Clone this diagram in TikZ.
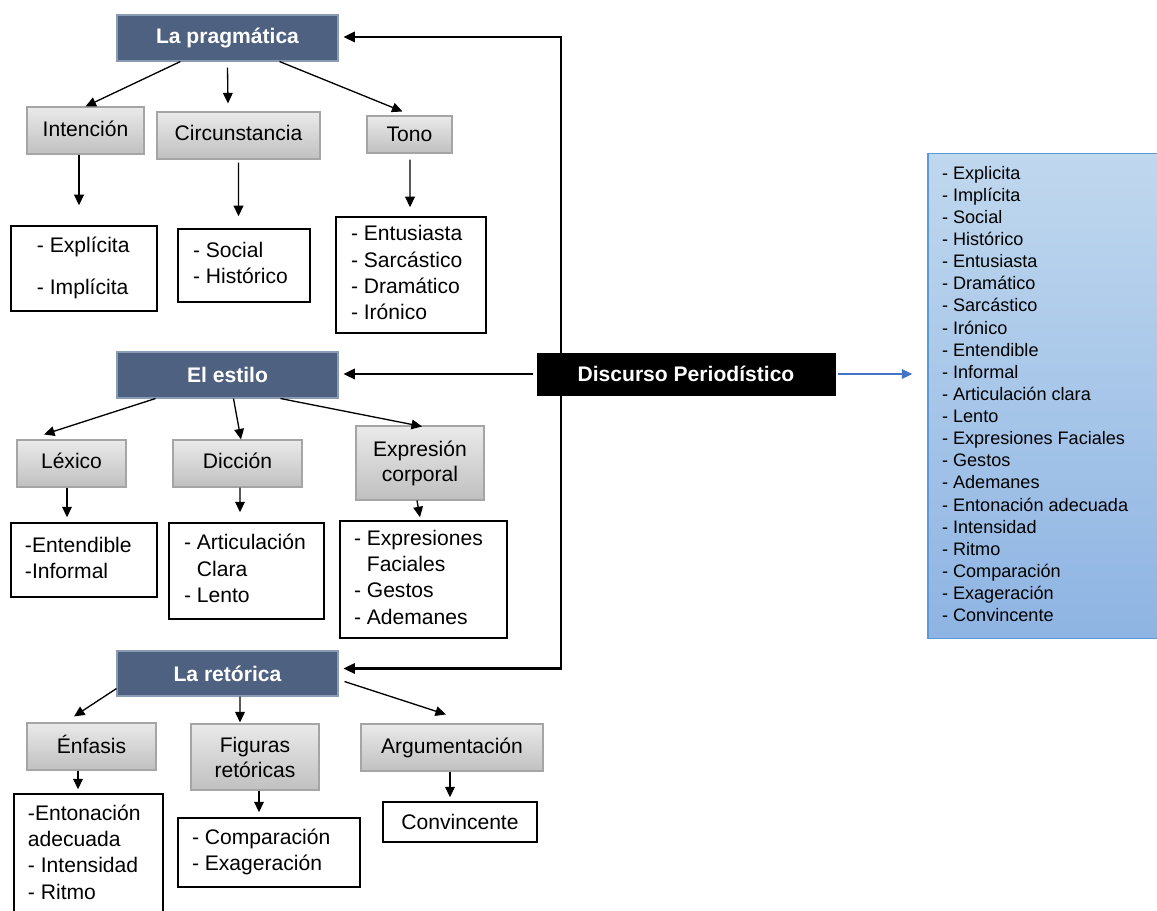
\documentclass[tikz,border=0pt]{standalone}
\usepackage{fontspec}
\setmainfont{Liberation Sans}
\usetikzlibrary{arrows.meta,calc}
\definecolor{hdr}{RGB}{79,97,128}
\definecolor{hdrline}{RGB}{140,155,180}
\definecolor{gtop}{RGB}{234,234,234}
\definecolor{gbot}{RGB}{192,192,192}
\definecolor{gline}{RGB}{165,165,165}
\definecolor{btop}{RGB}{192,216,238}
\definecolor{bbot}{RGB}{142,180,227}
\definecolor{bline}{RGB}{91,155,213}
\definecolor{barrow}{RGB}{68,114,196}
\tikzset{
 header/.style={draw=hdrline, line width=0.6pt, fill=hdr, text=white, font=\fontsize{12}{14.6}\selectfont\bfseries, inner sep=0pt},
 discbox/.style={draw=black, fill=black, text=white, font=\fontsize{12}{14.6}\selectfont\bfseries, inner sep=0pt},
 graybox/.style={draw=gline, line width=0.6pt, top color=gtop, bottom color=gbot, align=center, font=\fontsize{12}{14.2}\selectfont, inner sep=0pt},
 listbox/.style={draw=black, line width=0.8pt, fill=white, inner sep=0pt, font=\fontsize{12}{15}\selectfont},
 arr/.style={-{Triangle[length=6pt,width=5.5pt]}, line width=0.75pt},
 arrb/.style={-{Triangle[length=6.5pt,width=6pt]}, line width=1.2pt},
}
\newcommand{\mkbox}[7]{%
 \node[#1, minimum width={(#5-#3)*0.02cm}, minimum height={(#6-#4)*0.02cm}] (#2) at ({(#3+#5)/2},{(#4+#6)/2}) {#7};}
\newcommand{\mklist}[7]{%
 \pgfmathsetmacro{\lbw}{(#4-#2)*0.02}%
 \pgfmathsetmacro{\lbh}{(#5-#3)*0.02}%
 \pgfmathsetmacro{\lbs}{#6*0.02}%
 \node[listbox, minimum width=\lbw cm, minimum height=\lbh cm] (#1) at ({(#2+#4)/2},{(#3+#5)/2})
  {\makebox[\lbw cm][l]{\hspace*{\lbs cm}\begin{tabular}{@{}l@{}}#7\end{tabular}}};}
\begin{document}
\begin{tikzpicture}[x=0.02cm,y=-0.02cm]
\path[use as bounding box, fill=white] (0,0) rectangle (1157,911);

% headers
\mkbox{header}{prag}{117}{15}{338}{61}{La pragmática}
\mkbox{header}{estilo}{117}{352}{338}{398}{El estilo}
\mkbox{header}{ret}{117}{651}{338}{696}{La retórica}
\mkbox{discbox}{disc}{537}{353}{835}{395}{Discurso Periodístico}

% gray boxes
\mkbox{graybox}{inten}{27}{107}{144}{154}{\raisebox{2pt}{Intención}}
\mkbox{graybox}{circ}{157}{112}{320}{159}{\raisebox{2.5pt}{Circunstancia}}
\mkbox{graybox}{tono}{367}{116}{452}{153}{Tono}
\mkbox{graybox}{lexico}{17}{440}{126}{487}{\raisebox{3pt}{Léxico}}
\mkbox{graybox}{diccion}{173}{440}{302}{487}{\raisebox{3pt}{Dicción}}
\mkbox{graybox}{expr}{356}{426}{484}{500}{Expresión\\corporal}
\mkbox{graybox}{enfasis}{27}{723}{156}{770}{\raisebox{2.5pt}{Énfasis}}
\mkbox{graybox}{figuras}{191}{724}{319}{790}{Figuras\\retóricas}
\mkbox{graybox}{argum}{361}{724}{543}{771}{\raisebox{2.5pt}{Argumentación}}

% list boxes
\mklist{explicita}{11}{226}{157}{311}{26}{- Explícita\\[8.8pt]- Implícita}
\mklist{social}{178}{229}{310}{302}{15}{- Social\\- Histórico}
\mklist{tonolist}{336}{217}{486}{333}{15}{- Entusiasta\\- Sarcástico\\- Dramático\\- Irónico}
\mklist{entend}{11}{523}{157}{597}{14}{-Entendible\\-Informal}
\mklist{artic}{169}{523}{324}{619}{15}{- Articulación\\\phantom{- }Clara\\- Lento}
\mklist{exprlist}{340}{521}{507}{638}{14}{- Expresiones\\\phantom{- }Faciales\\- Gestos\\- Ademanes}
\mklist{enton}{14}{794}{163}{915}{14}{-Entonación\\adecuada\\- Intensidad\\- Ritmo}
\mklist{compar}{178}{818}{360}{887}{14}{- Comparación\\- Exageración}
\mkbox{listbox}{conv}{383}{802}{537}{842}{Convincente}

% right list
\node[draw=bline, line width=0.8pt, top color=btop, bottom color=bbot, inner sep=0pt,
      minimum width=4.74cm, minimum height=9.7cm, font=\fontsize{10.3}{12.6}\selectfont] (rlist) at (1046.5,396)
 {\makebox[4.74cm][l]{\hspace*{0.28cm}\begin{tabular}{@{}l@{}}
 - Explicita\\- Implícita\\- Social\\- Histórico\\- Entusiasta\\- Dramático\\- Sarcástico\\- Irónico\\- Entendible\\- Informal\\- Articulación clara\\- Lento\\- Expresiones Faciales\\- Gestos\\- Ademanes\\- Entonación adecuada\\- Intensidad\\- Ritmo\\- Comparación\\- Exageración\\- Convincente\end{tabular}}};

% main connectors
\draw[arrb] ($(disc.north west)+(24,0)$) |- ($(prag.east)+(5,-1)$);
\draw[arrb] ($(disc.south west)+(24,0)$) |- ($(ret.east)+(5,-5)$);
\draw[arrb] ($(disc.west)+(-4,0)$) -- ($(estilo.east)+(5,-1)$);
\draw[arr, draw=barrow, fill=barrow] ($(disc.east)+(3,0)$) -- ($(disc.east -| rlist.west)+(-15,0)$);

% pragmatica
\draw[arr] ($(prag.south west)+(64,0)$) -- (inten.north);
\draw[arr] ($(prag.south)+(0,6)$) -- ($(circ.north)+(-10.5,-8)$);
\draw[arr] ($(prag.south west)+(163,0)$) -- ($(tono.north)+(-7,-4)$);
\draw[arr] ($(inten.south)+(-6.5,0)$) -- ($(explicita.north)+(-5,-20)$);
\draw[arr] ($(circ.south)+(0,3)$) -- ($(social.north)+(-5.5,-12)$);
\draw[arr] ($(tono.south)+(0.5,6)$) -- ($(tonolist.north)+(-1,-9)$);

% estilo
\draw[arr] ($(estilo.south west)+(39,0)$) -- ($(lexico.north)+(-27.5,-5)$);
\draw[arr] ($(estilo.south west)+(117,0)$) -- ($(diccion.north)+(3.5,0)$);
\draw[arr] ($(estilo.south west)+(164,0)$) -- ($(expr.north)+(2,1)$);
\draw[arr] ($(lexico.south)+(-4.5,0)$) -- ($(entend.north)+(-17,-5)$);
\draw[arr] ($(diccion.south)+(2.5,0)$) -- ($(artic.north)+(-6.5,-10)$);
\draw[arr] ($(expr.south)+(-3,0)$) -- ($(exprlist.north)+(-3.5,-3)$);

% retorica
\draw[arr] ($(ret.south west)+(0,-8)$) -- ($(enfasis.north)+(-17.5,-6)$);
\draw[arr] ($(ret.south)+(12.5,0)$) -- ($(figuras.north)+(-15,-1)$);
\draw[arr] ($(ret.south east)+(6,-15)$) -- ($(argum.north)+(-6,-9)$);
\draw[arr] ($(enfasis.south)+(-13.5,0)$) -- ($(enton.north)+(-10.5,-4)$);
\draw[arr] ($(figuras.south)+(4,0)$) -- ($(compar.north)+(-10,-5)$);
\draw[arr] ($(argum.south)+(-2,0)$) -- ($(conv.north)+(-10,-4)$);
\end{tikzpicture}
\end{document}
